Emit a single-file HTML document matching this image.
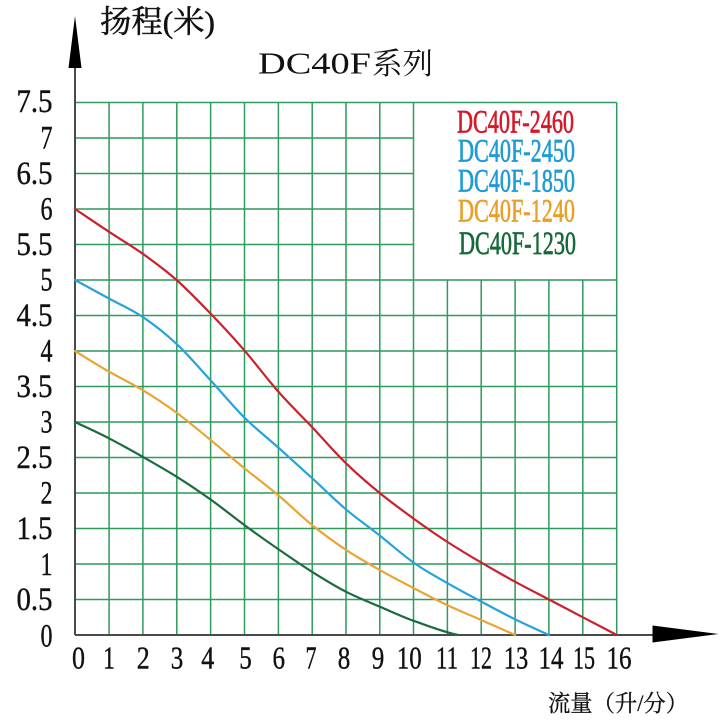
<!DOCTYPE html>
<html><head><meta charset="utf-8"><style>
html,body{margin:0;padding:0;background:#fff;}
svg{display:block;}
</style></head><body>
<svg width="725" height="723" viewBox="0 0 725 723" xmlns="http://www.w3.org/2000/svg">
<rect width="725" height="723" fill="#fff"/>
<g stroke="#2e9a5c" stroke-width="1.5" fill="none">
<line x1="109.1" y1="102.5" x2="109.1" y2="635"/>
<line x1="142.9" y1="102.5" x2="142.9" y2="635"/>
<line x1="176.8" y1="102.5" x2="176.8" y2="635"/>
<line x1="210.6" y1="102.5" x2="210.6" y2="635"/>
<line x1="244.5" y1="102.5" x2="244.5" y2="635"/>
<line x1="278.4" y1="102.5" x2="278.4" y2="635"/>
<line x1="312.2" y1="102.5" x2="312.2" y2="635"/>
<line x1="346.0" y1="102.5" x2="346.0" y2="635"/>
<line x1="379.8" y1="102.5" x2="379.8" y2="635"/>
<line x1="413.5" y1="102.5" x2="413.5" y2="635"/>
<line x1="447.4" y1="280" x2="447.4" y2="635"/>
<line x1="481.2" y1="280" x2="481.2" y2="635"/>
<line x1="515.1" y1="280" x2="515.1" y2="635"/>
<line x1="548.9" y1="280" x2="548.9" y2="635"/>
<line x1="582.8" y1="280" x2="582.8" y2="635"/>
<line x1="616.7" y1="102.5" x2="616.7" y2="635"/>
<line x1="75" y1="102.5" x2="616.7" y2="102.5"/>
<line x1="75" y1="138" x2="413.5" y2="138"/>
<line x1="75" y1="173.5" x2="413.5" y2="173.5"/>
<line x1="75" y1="209" x2="413.5" y2="209"/>
<line x1="75" y1="244.5" x2="413.5" y2="244.5"/>
<line x1="75" y1="280" x2="616.7" y2="280"/>
<line x1="75" y1="315.5" x2="616.7" y2="315.5"/>
<line x1="75" y1="351" x2="616.7" y2="351"/>
<line x1="75" y1="386.5" x2="616.7" y2="386.5"/>
<line x1="75" y1="422" x2="616.7" y2="422"/>
<line x1="75" y1="457.5" x2="616.7" y2="457.5"/>
<line x1="75" y1="493" x2="616.7" y2="493"/>
<line x1="75" y1="528.5" x2="616.7" y2="528.5"/>
<line x1="75" y1="564" x2="616.7" y2="564"/>
<line x1="75" y1="599.5" x2="616.7" y2="599.5"/>
</g>
<g stroke="#4a4a4a" stroke-width="2" fill="none">
<line x1="75" y1="66" x2="75" y2="635"/>
<line x1="75" y1="635" x2="655" y2="635"/>
</g>
<polygon points="75,16 68.5,68 81.5,68" fill="#000"/>
<polygon points="718.5,634 652.5,625.5 652.5,642.5" fill="#000"/>
<g fill="none" stroke-width="2.2" stroke-linejoin="round" stroke-linecap="round">
<path stroke="#c8222c" d="M75,209 C86.3,216.6 97.6,224.3 108.9,231.7 C120.2,239.2 131.4,245.7 142.7,253.7 C154,261.8 165.3,270.1 176.6,280 C187.9,290 199.1,301.7 210.4,313.4 C221.7,325.1 233,337.3 244.3,350.3 C255.6,363.3 266.9,378.7 278.2,391.5 C289.5,404.3 300.7,415.1 312,427 C323.3,439 334.6,452.2 345.9,463.2 C357.2,474.2 368.4,483.8 379.7,493 C391,502.2 402.3,510.4 413.6,518.6 C424.9,526.8 436.2,534.7 447.5,542 C458.8,549.3 470,556 481.3,562.6 C492.6,569.2 503.9,575.7 515.2,581.8 C526.5,587.9 537.7,593.6 549,599.5 C560.3,605.4 571.6,611.4 582.9,617.3 C594.2,623.2 605.5,629.1 616.8,635"/>
<path stroke="#27a3d9" d="M75,280 C86.3,286.2 97.6,292.4 108.9,298.5 C120.2,304.7 131.4,309.3 142.7,316.9 C154,324.5 165.3,333.4 176.6,343.9 C187.9,354.4 199.1,367.8 210.4,380.1 C221.7,392.4 233,406.3 244.3,417.5 C255.6,428.7 266.9,437.4 278.2,447.5 C289.5,457.6 300.7,467.8 312,478.1 C323.3,488.4 334.6,499.7 345.9,509.3 C357.2,518.9 368.4,526.6 379.7,535.5 C391,544.4 402.3,554.7 413.6,562.6 C424.9,570.6 436.2,576.7 447.5,583.2 C458.8,589.7 470,595.6 481.3,601.6 C492.6,607.6 503.9,613.8 515.2,619.4 C526.5,625 537.7,629.8 549,635"/>
<path stroke="#e8a535" d="M75,351 C86.3,357.9 97.6,365.1 108.9,371.6 C120.2,378.1 131.4,383.2 142.7,390.1 C154,397 165.3,404.5 176.6,412.8 C187.9,421.1 199.1,430.6 210.4,439.8 C221.7,449 233,459 244.3,468.2 C255.6,477.4 266.9,485.6 278.2,495.1 C289.5,504.6 300.7,515.9 312,525 C323.3,534.1 334.6,542.3 345.9,549.8 C357.2,557.3 368.4,563.6 379.7,570 C391,576.4 402.3,582.2 413.6,588.1 C424.9,594 436.2,599.9 447.5,605.2 C458.8,610.5 470,615.1 481.3,620.1 C492.6,625.1 503.9,630 515.2,635"/>
<path stroke="#1b6b3e" d="M75,422 C86.3,427.4 97.6,432.5 108.9,438.3 C120.2,444.1 131.4,450.4 142.7,456.8 C154,463.2 165.3,469.6 176.6,476.7 C187.9,483.8 199.1,491.4 210.4,499.4 C221.7,507.4 233,516.7 244.3,525 C255.6,533.3 266.9,541.3 278.2,549.1 C289.5,556.9 300.7,564.7 312,571.8 C323.3,578.9 334.6,585.9 345.9,591.7 C357.2,597.5 368.4,601.8 379.7,606.6 C391,611.5 402.3,616.8 413.6,620.8 C428.5,626 443.4,632 458.3,635"/>
</g>
<g font-family="'Liberation Serif', serif" font-size="33" fill="#111" stroke="#111" stroke-width="0.4" text-anchor="end">
<text x="52.5" y="112" textLength="36" lengthAdjust="spacingAndGlyphs">7.5</text>
<text x="52.5" y="148.5" textLength="12" lengthAdjust="spacingAndGlyphs">7</text>
<text x="52.5" y="184" textLength="36" lengthAdjust="spacingAndGlyphs">6.5</text>
<text x="52.5" y="219.5" textLength="12" lengthAdjust="spacingAndGlyphs">6</text>
<text x="52.5" y="255" textLength="36" lengthAdjust="spacingAndGlyphs">5.5</text>
<text x="52.5" y="290.5" textLength="12" lengthAdjust="spacingAndGlyphs">5</text>
<text x="52.5" y="326" textLength="36" lengthAdjust="spacingAndGlyphs">4.5</text>
<text x="52.5" y="361.5" textLength="12" lengthAdjust="spacingAndGlyphs">4</text>
<text x="52.5" y="397" textLength="36" lengthAdjust="spacingAndGlyphs">3.5</text>
<text x="52.5" y="432.5" textLength="12" lengthAdjust="spacingAndGlyphs">3</text>
<text x="52.5" y="468" textLength="36" lengthAdjust="spacingAndGlyphs">2.5</text>
<text x="52.5" y="503.5" textLength="12" lengthAdjust="spacingAndGlyphs">2</text>
<text x="52.5" y="539" textLength="36" lengthAdjust="spacingAndGlyphs">1.5</text>
<text x="52.5" y="575" textLength="12" lengthAdjust="spacingAndGlyphs">1</text>
<text x="52.5" y="610" textLength="36" lengthAdjust="spacingAndGlyphs">0.5</text>
<text x="52.5" y="646.5" textLength="12" lengthAdjust="spacingAndGlyphs">0</text>
</g>
<g font-family="'Liberation Serif', serif" font-size="32" fill="#111" stroke="#111" stroke-width="0.4" text-anchor="middle">
<text x="78.5" y="668.5" textLength="13" lengthAdjust="spacingAndGlyphs">0</text>
<text x="109" y="668.5" textLength="12" lengthAdjust="spacingAndGlyphs">1</text>
<text x="143.3" y="668.5" textLength="13" lengthAdjust="spacingAndGlyphs">2</text>
<text x="177" y="668.5" textLength="12.5" lengthAdjust="spacingAndGlyphs">3</text>
<text x="207.7" y="668.5" textLength="13" lengthAdjust="spacingAndGlyphs">4</text>
<text x="245.5" y="668.5" textLength="12.5" lengthAdjust="spacingAndGlyphs">5</text>
<text x="278.7" y="668.5" textLength="12.5" lengthAdjust="spacingAndGlyphs">6</text>
<text x="311" y="668.5" textLength="11" lengthAdjust="spacingAndGlyphs">7</text>
<text x="344" y="668.5" textLength="12.5" lengthAdjust="spacingAndGlyphs">8</text>
<text x="378" y="668.5" textLength="12.5" lengthAdjust="spacingAndGlyphs">9</text>
<text x="409.2" y="668.5" textLength="25" lengthAdjust="spacingAndGlyphs">10</text>
<text x="447" y="668.5" textLength="22" lengthAdjust="spacingAndGlyphs">11</text>
<text x="481" y="668.5" textLength="22" lengthAdjust="spacingAndGlyphs">12</text>
<text x="516" y="668.5" textLength="24.5" lengthAdjust="spacingAndGlyphs">13</text>
<text x="551" y="668.5" textLength="25" lengthAdjust="spacingAndGlyphs">14</text>
<text x="584" y="668.5" textLength="22" lengthAdjust="spacingAndGlyphs">15</text>
<text x="619" y="668.5" textLength="25" lengthAdjust="spacingAndGlyphs">16</text>
</g>
<text x="100" y="32.5" font-family="'Liberation Serif', 'Noto Serif CJK SC', serif" font-size="31" fill="#111" stroke="#111" stroke-width="0.5" textLength="115" lengthAdjust="spacingAndGlyphs">扬程(米)</text>
<text x="258" y="73.5" font-family="'Liberation Serif', serif" font-size="31" fill="#111" textLength="113" lengthAdjust="spacingAndGlyphs">DC40F</text>
<text x="372" y="74" font-family="'Noto Serif CJK SC', serif" font-size="30" fill="#111" textLength="61" lengthAdjust="spacingAndGlyphs">系列</text>
<text x="548" y="711" font-family="'Liberation Serif', 'Noto Serif CJK SC', serif" font-size="23" fill="#111" stroke="#111" stroke-width="0.3" textLength="140" lengthAdjust="spacingAndGlyphs">流量（升/分）</text>
<g font-family="'Liberation Serif', serif" font-size="33" stroke-width="0.7">
<text x="457" y="132.7" fill="#d5192b" stroke="#d5192b" textLength="117" lengthAdjust="spacingAndGlyphs">DC40F-2460</text>
<text x="458" y="161.7" fill="#1f9bd7" stroke="#1f9bd7" textLength="117" lengthAdjust="spacingAndGlyphs">DC40F-2450</text>
<text x="458" y="191.7" fill="#1f9bd7" stroke="#1f9bd7" textLength="117" lengthAdjust="spacingAndGlyphs">DC40F-1850</text>
<text x="458" y="221.7" fill="#e9a02a" stroke="#e9a02a" textLength="117" lengthAdjust="spacingAndGlyphs">DC40F-1240</text>
<text x="459" y="254" fill="#17693a" stroke="#17693a" textLength="117" lengthAdjust="spacingAndGlyphs">DC40F-1230</text>
</g>
</svg>
</body></html>
